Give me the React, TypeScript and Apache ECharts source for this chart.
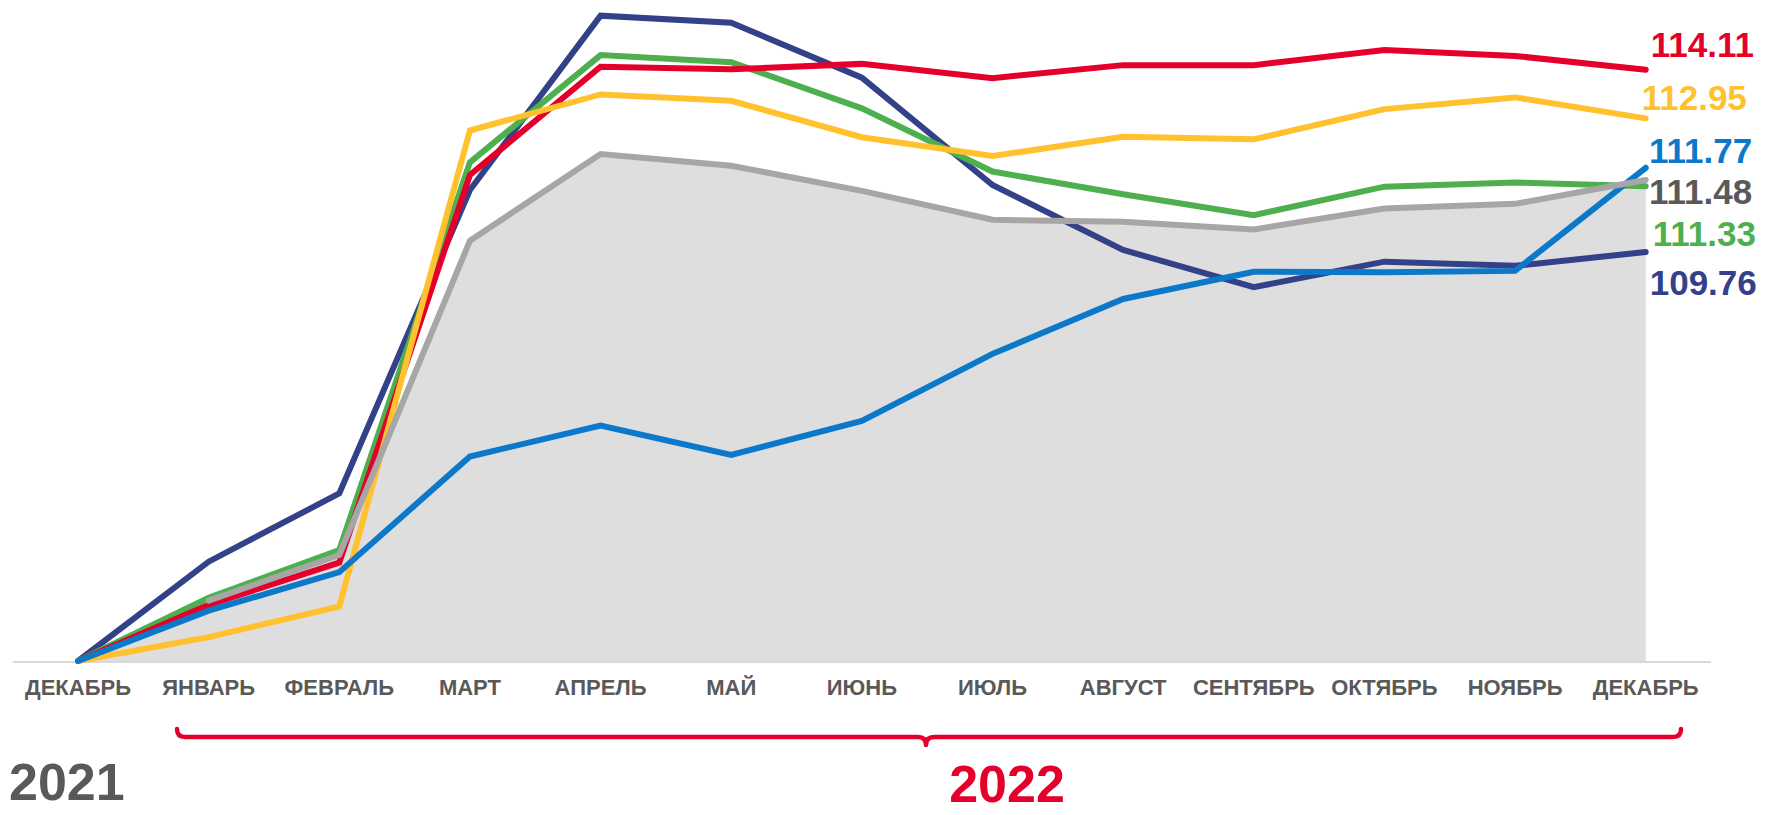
import React, { useEffect, useRef } from "react";
import * as echarts from "echarts";

const months = ["ДЕКАБРЬ", "ЯНВАРЬ", "ФЕВРАЛЬ", "МАРТ", "АПРЕЛЬ", "МАЙ", "ИЮНЬ", "ИЮЛЬ", "АВГУСТ", "СЕНТЯБРЬ", "ОКТЯБРЬ", "НОЯБРЬ", "ДЕКАБРЬ"];
const years = ["2021", "2022"];

const redValues = [100, 101.34, 102.35, 111.6, 114.18, 114.12, 114.25, 113.91, 114.22, 114.22, 114.58, 114.44, 114.11];
const yellowValues = [100, 100.57, 101.3, 112.66, 113.52, 113.37, 112.5, 112.05, 112.51, 112.45, 113.17, 113.45, 112.95];
const blueValues = [100, 101.2, 102.12, 104.88, 105.62, 104.92, 105.73, 107.33, 108.64, 109.29, 109.28, 109.31, 111.77];
const grayValues = [100, 101.44, 102.53, 110.03, 112.1, 111.82, 111.22, 110.53, 110.48, 110.3, 110.8, 110.91, 111.48];
const greenValues = [100, 101.51, 102.65, 111.9, 114.46, 114.29, 113.19, 111.68, 111.14, 110.64, 111.32, 111.42, 111.33];
const navyValues = [100, 102.37, 104.0, 111.24, 115.4, 115.23, 113.92, 111.36, 109.81, 108.92, 109.53, 109.43, 109.76];

const FONT = "'Liberation Sans', Arial, sans-serif";
const RED = "#E4002B";
const YELLOW = "#FFC22E";
const BLUE = "#0B78CA";
const GRAY = "#A6A6A6";
const GREEN = "#4EAF4E";
const NAVY = "#334189";
const TEXT_GRAY = "#595959";

const BRACE =
  "M177 729 Q177 737 185 737 L918 737 Q926 737 926 745 Q926 737 934 737 L1673 737 Q1681 737 1681 729";

let registered = false;

function lineSeries(name: string, data: (number | string)[], color: string, labelColor: string, offset: number[]) {
  return {
    name,
    type: "line",
    data,
    symbol: "none",
    lineStyle: { color, width: 6, cap: "round", join: "miter" },
    itemStyle: { color },
    endLabel: {
      show: true,
      formatter: (p: any) => Number(p.value).toFixed(2),
      color: labelColor,
      fontSize: 35,
      fontWeight: "bold",
      fontFamily: FONT,
      distance: 5,
      offset,
    },
  };
}

export default function App() {
  const ref = useRef<HTMLDivElement>(null);
  useEffect(() => {
    if (!ref.current) return;
    if (!registered) {
      echarts.graphic.registerShape("brace", echarts.graphic.extendPath(BRACE, {}) as any);
      registered = true;
    }
    const chart = echarts.init(ref.current, null, { renderer: "svg" });
    const grayLine = grayValues.map((v, i) => (i === 0 ? "-" : v));
    chart.setOption({
      animation: false,
      backgroundColor: "#ffffff",
      grid: { left: 78, right: 119.3, top: 11.5, height: 649.5, containLabel: false },
      xAxis: {
        type: "category",
        data: months,
        boundaryGap: false,
        axisLine: { show: false },
        axisTick: { show: false },
        splitLine: { show: false },
        axisLabel: {
          interval: 0,
          margin: 15,
          color: TEXT_GRAY,
          fontSize: 22,
          fontWeight: "bold",
          fontFamily: FONT,
        },
      },
      yAxis: {
        type: "value",
        min: 100,
        max: 115.5,
        show: false,
        splitLine: { show: false },
      },
      series: [
        {
          name: "area",
          type: "line",
          data: grayValues,
          symbol: "none",
          lineStyle: { width: 0 },
          areaStyle: { color: "#DEDEDE", opacity: 1 },
          z: 1,
        },
        lineSeries("navy", navyValues, NAVY, NAVY, [-1, 30.6]),
        lineSeries("green", greenValues, GREEN, GREEN, [2, 47.7]),
        lineSeries("red", redValues, RED, RED, [0, -25.6]),
        lineSeries("yellow", yellowValues, YELLOW, YELLOW, [-9, -21.3]),
        lineSeries("blue", blueValues, BLUE, BLUE, [-1.7, -17.7]),
        lineSeries("gray", grayLine, GRAY, TEXT_GRAY, [-1.7, 11.7]),
      ],
      graphic: [
        {
          type: "line",
          shape: { x1: 13, y1: 662, x2: 1711, y2: 662 },
          style: { stroke: "#D9D9D9", lineWidth: 2 },
          z: 0,
        },
        {
          type: "brace",
          x: 0,
          y: 0,
          scaleX: 1,
          scaleY: 1,
          style: { fill: "none", stroke: RED, lineWidth: 4.5, lineCap: "round", lineJoin: "round" },
        },
        {
          type: "text",
          x: 9,
          y: 782,
          style: {
            text: years[0],
            fill: TEXT_GRAY,
            fontSize: 52,
            fontWeight: "bold",
            fontFamily: FONT,
            lineHeight: 50,
            textAlign: "left",
            textVerticalAlign: "middle",
          },
        },
        {
          type: "text",
          x: 1007,
          y: 784,
          style: {
            text: years[1],
            fill: RED,
            fontSize: 52,
            fontWeight: "bold",
            fontFamily: FONT,
            lineHeight: 50,
            textAlign: "center",
            textVerticalAlign: "middle",
          },
        },
      ],
    });
    return () => chart.dispose();
  }, []);
  return (
    <div
      ref={ref}
      style={{ position: "absolute", left: 0, top: 0, width: 1765, height: 815 }}
    />
  );
}
